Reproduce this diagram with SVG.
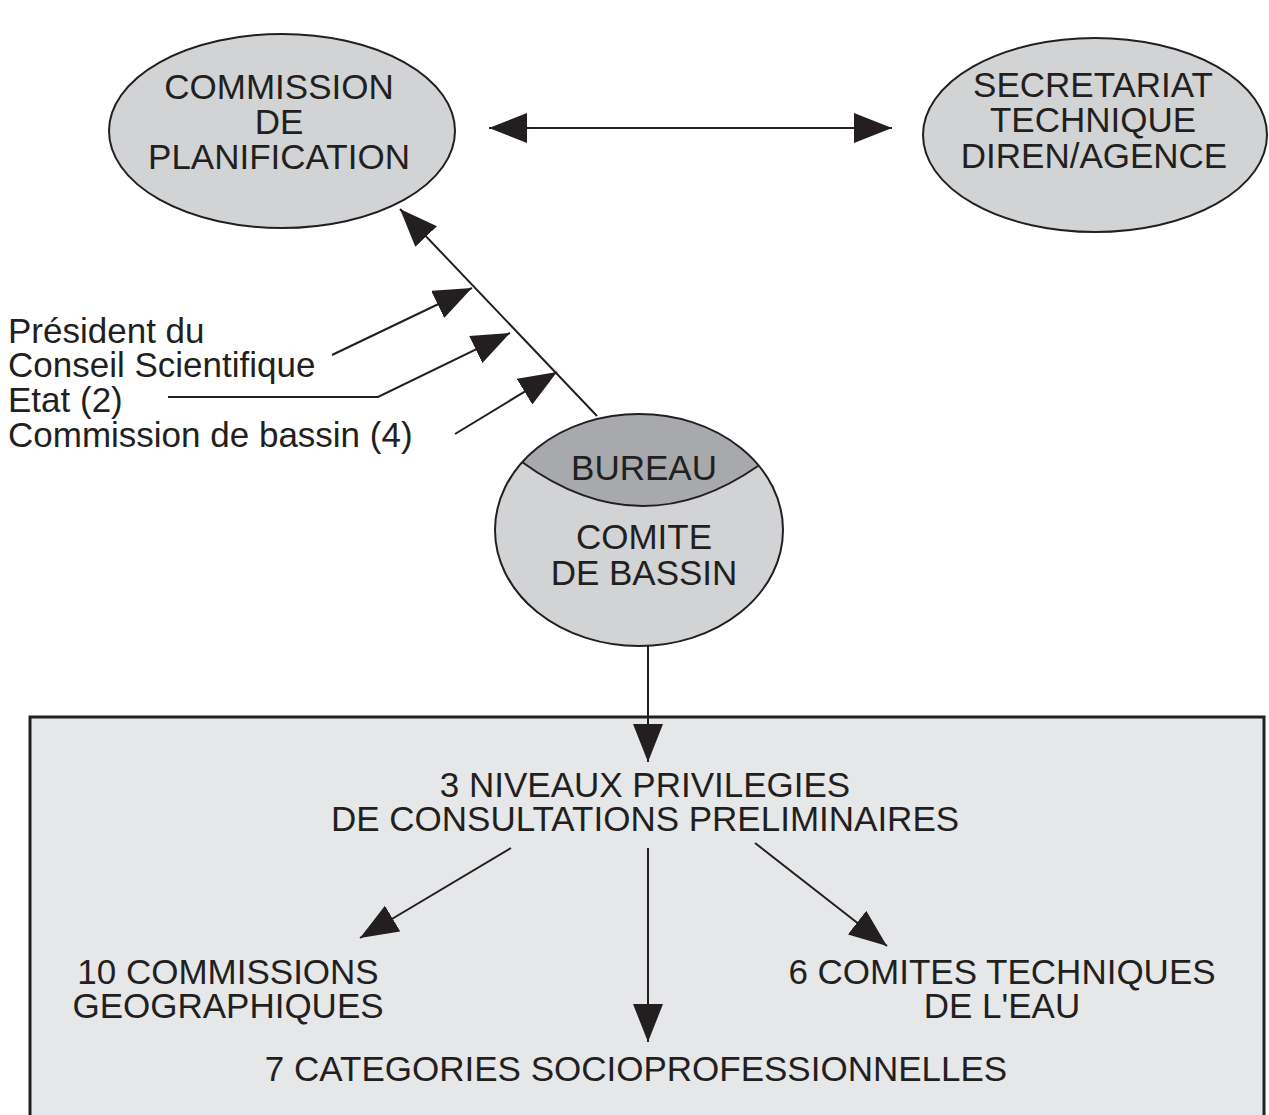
<svg xmlns="http://www.w3.org/2000/svg" width="1269" height="1115" viewBox="0 0 1269 1115">
<style>
text{font-family:"Liberation Sans",Arial,sans-serif;font-size:35px;fill:#231f20}
.c{text-anchor:middle}
.node{fill:#d1d3d4;stroke:#231f20;stroke-width:2}
.ln{fill:none;stroke:#231f20;stroke-width:2}
</style>
<defs>
<marker id="ah" markerUnits="userSpaceOnUse" markerWidth="38" markerHeight="30" refX="38" refY="15" orient="auto" viewBox="0 0 38 30">
<path d="M0,0 L38,15 L0,30 Z" fill="#231f20"/>
</marker>
<marker id="ahs" markerUnits="userSpaceOnUse" markerWidth="38" markerHeight="30" refX="0" refY="15" orient="auto" viewBox="0 0 38 30">
<path d="M38,0 L0,15 L38,30 Z" fill="#231f20"/>
</marker>
<clipPath id="bc"><ellipse cx="639" cy="530" rx="144" ry="116"/></clipPath>
</defs>
<rect x="0" y="0" width="1269" height="1115" fill="#ffffff"/>
<g id="box-consultations">
<rect x="30" y="717" width="1234" height="410" fill="#e6e7e8" stroke="#231f20" stroke-width="3"/>
<text class="c" x="645" y="797">3 NIVEAUX PRIVILEGIES</text>
<text class="c" x="645" y="831">DE CONSULTATIONS PRELIMINAIRES</text>
</g>
<g id="node-commission">
<ellipse class="node" cx="282" cy="131" rx="173" ry="97"/>
<text class="c" x="279" y="99">COMMISSION</text>
<text class="c" x="279" y="134">DE</text>
<text class="c" x="279" y="169">PLANIFICATION</text>
</g>
<g id="node-secretariat">
<ellipse class="node" cx="1095" cy="135" rx="172" ry="97"/>
<text class="c" x="1093" y="97">SECRETARIAT</text>
<text class="c" x="1093" y="132">TECHNIQUE</text>
<text class="c" x="1094" y="168">DIREN/AGENCE</text>
</g>
<g id="node-comite">
<ellipse cx="639" cy="530" rx="144" ry="116" fill="#d1d3d4"/>
<path d="M522,462 Q640,548 758,466 L800,400 L480,400 Z" fill="#a7a9ac" clip-path="url(#bc)"/>
<path class="ln" d="M522,462 Q640,548 758,466"/>
<ellipse cx="639" cy="530" rx="144" ry="116" fill="none" stroke="#231f20" stroke-width="2"/>
<text class="c" x="644" y="480">BUREAU</text>
<text class="c" x="644" y="549">COMITE</text>
<text class="c" x="644" y="585">DE BASSIN</text>
</g>
<g id="labels">
<text x="8" y="343">Président du</text>
<text x="8" y="377">Conseil Scientifique</text>
<text x="8" y="412">Etat (2)</text>
<text x="8" y="447">Commission de bassin (4)</text>
</g>
<g id="node-geo"><text class="c" x="228" y="984">10 COMMISSIONS</text><text class="c" x="228" y="1018">GEOGRAPHIQUES</text></g>
<g id="node-comites"><text class="c" x="1002" y="984">6 COMITES TECHNIQUES</text><text class="c" x="1002" y="1018">DE L'EAU</text></g>
<g id="node-cat"><text class="c" x="636" y="1081">7 CATEGORIES SOCIOPROFESSIONNELLES</text></g>
<g id="connectors">
<line class="ln" x1="489" y1="128" x2="892" y2="128" marker-start="url(#ahs)" marker-end="url(#ah)"/>
<line class="ln" x1="597" y1="416" x2="400" y2="209" marker-end="url(#ah)"/>
<line class="ln" x1="332" y1="355" x2="472" y2="288" marker-end="url(#ah)"/>
<polyline class="ln" points="168,397 378,397 510,333" marker-end="url(#ah)"/>
<line class="ln" x1="455" y1="434" x2="557" y2="372" marker-end="url(#ah)"/>
<line class="ln" x1="648" y1="646" x2="648" y2="762" marker-end="url(#ah)"/>
<line class="ln" x1="511" y1="848" x2="360" y2="938" marker-end="url(#ah)"/>
<line class="ln" x1="648" y1="848" x2="648" y2="1042" marker-end="url(#ah)"/>
<line class="ln" x1="755" y1="843" x2="887" y2="946" marker-end="url(#ah)"/>
</g>
</svg>
